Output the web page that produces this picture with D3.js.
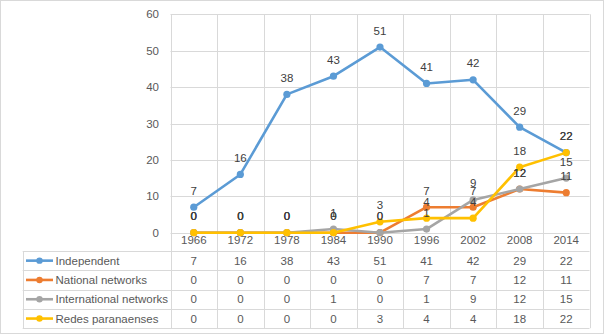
<!DOCTYPE html>
<html><head><meta charset="utf-8">
<script src="https://cdn.jsdelivr.net/npm/d3@7"></script>
<style>body{margin:0;background:#fff}svg{display:block}text{font-family:"Liberation Sans",Arial,sans-serif}</style>
</head><body><svg id="c" width="605" height="335"></svg>
<script>
const years = ["1966","1972","1978","1984","1990","1996","2002","2008","2014"];
const seriesNames = ["Independent","National networks","International networks","Redes paranaenses"];
const independent = [7,16,38,43,51,41,42,29,22];
const national = [0,0,0,0,0,7,7,12,11];
const international = [0,0,0,1,0,1,9,12,15];
const redes = [0,0,0,0,3,4,4,18,22];
const yTicks = [0,10,20,30,40,50,60];
const colors = ["#5B9BD5","#ED7D31","#A5A5A5","#FFC000"];
const series = [independent,national,international,redes].map((v,i)=>({name:seriesNames[i],values:v,color:colors[i]}));

const svg = d3.select("#c");
const grid = "#D9D9D9", txt = "#595959", lbl = "#404040";
svg.append("rect").attr("x",0.5).attr("y",0.5).attr("width",603).attr("height",333).attr("fill","#fff").attr("stroke",grid);

const x = d3.scaleBand().domain(years).range([170.5,589.5]);
const y = d3.scaleLinear().domain([0,60]).range([232.7,14.3]);
const rowH = 19.3, tableTop = 251, legendLeft = 22.7;
const tableBottom = tableTop + rowH*4;

// horizontal gridlines
svg.append("g").selectAll("line").data(yTicks).join("line")
  .attr("x1",x.range()[0]).attr("x2",x.range()[1])
  .attr("y1",d=>Math.round(y(d))+0.5).attr("y2",d=>Math.round(y(d))+0.5)
  .attr("stroke",grid);
// vertical gridlines (plot + table)
const edges = years.map(d=>x(d)).concat([x.range()[1]]);
svg.append("g").selectAll("line").data(edges).join("line")
  .attr("x1",d=>Math.round(d)+0.5).attr("x2",d=>Math.round(d)+0.5)
  .attr("y1",y(60)).attr("y2",tableBottom).attr("stroke",grid);
// table horizontal lines
svg.append("g").selectAll("line").data(d3.range(5)).join("line")
  .attr("x1",legendLeft).attr("x2",x.range()[1])
  .attr("y1",d=>Math.round(tableTop+d*rowH)+0.5).attr("y2",d=>Math.round(tableTop+d*rowH)+0.5)
  .attr("stroke",grid);
svg.append("line").attr("x1",Math.round(legendLeft)+0.5).attr("x2",Math.round(legendLeft)+0.5)
  .attr("y1",tableTop).attr("y2",tableBottom).attr("stroke",grid);

// y axis
const yAxis = d3.axisLeft(y).tickValues(yTicks).tickSize(0).tickPadding(0);
const ga = svg.append("g").attr("transform","translate(159,0)").call(yAxis);
ga.select(".domain").remove();
ga.selectAll("text").attr("fill",txt).attr("font-size","11.5px");

// x axis labels in header row
const xAxis = d3.axisBottom(x).tickSize(0).tickPadding(0);
const gx = svg.append("g").attr("transform",`translate(0,${y(0)+3})`).call(xAxis);
gx.select(".domain").remove();
gx.selectAll("text").attr("fill",txt).attr("font-size","11.5px");

// lines
const line = d3.line().x((d,i)=>x(years[i])+x.bandwidth()/2).y(d=>y(d));
series.forEach(s=>{
  svg.append("path").datum(s.values).attr("d",line).attr("fill","none")
    .attr("stroke",s.color).attr("stroke-width",2.6).attr("stroke-linejoin","round").attr("stroke-linecap","round");
  svg.append("g").selectAll("circle").data(s.values).join("circle")
    .attr("cx",(d,i)=>x(years[i])+x.bandwidth()/2).attr("cy",d=>y(d)).attr("r",3.6).attr("fill",s.color);
});
// data labels
series.forEach(s=>{
  svg.append("g").selectAll("text").data(s.values).join("text")
    .attr("x",(d,i)=>x(years[i])+x.bandwidth()/2).attr("y",d=>y(d)-12.5)
    .attr("text-anchor","middle").attr("fill",lbl).attr("font-size","11.5px").text(d=>d);
});

// table rows
series.forEach((s,r)=>{
  const cy = tableTop + rowH*r + rowH/2;
  const g = svg.append("g");
  g.append("line").attr("x1",26).attr("x2",53).attr("y1",cy).attr("y2",cy).attr("stroke",s.color).attr("stroke-width",2.6);
  g.append("circle").attr("cx",39.5).attr("cy",cy).attr("r",3.2).attr("fill",s.color);
  g.append("text").attr("x",55.5).attr("y",cy).attr("dy","0.35em").attr("fill",txt).attr("font-size","11.5px").text(s.name);
  g.selectAll("text.v").data(s.values).join("text").attr("class","v")
    .attr("x",(d,i)=>x(years[i])+x.bandwidth()/2).attr("y",cy).attr("dy","0.35em")
    .attr("text-anchor","middle").attr("fill",txt).attr("font-size","11.5px").text(d=>d);
});
</script></body></html>
